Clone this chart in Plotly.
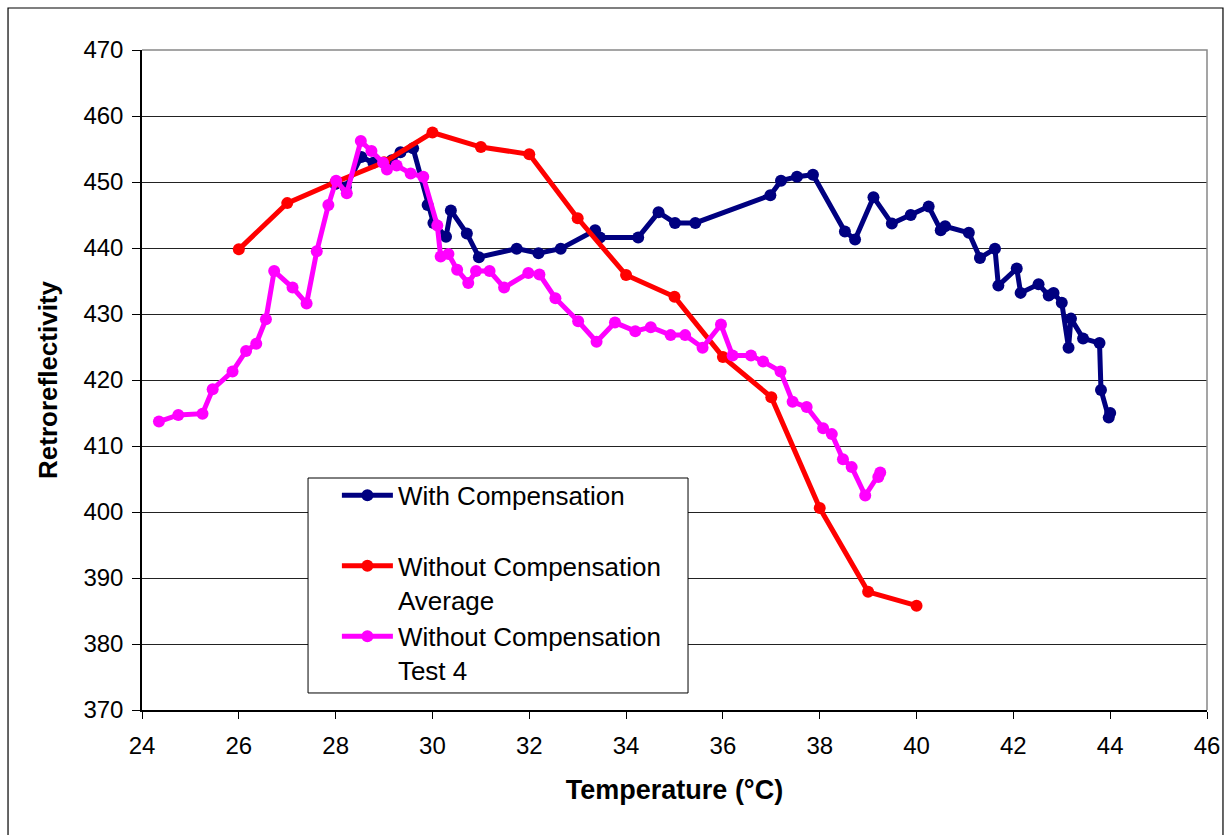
import plotly.graph_objects as go

# --- data ---
with_comp_x = [27.99, 28.21, 28.53, 28.78, 29.16, 29.34, 29.60, 29.90, 30.02, 30.28, 30.38, 30.71, 30.96,
               31.74, 32.19, 32.65, 33.36, 33.46, 34.25, 34.67, 35.01, 35.43, 36.98, 37.20, 37.53, 37.86,
               38.52, 38.73, 39.11, 39.49, 39.88, 40.25, 40.50, 40.59, 41.08, 41.31, 41.62, 41.69, 42.07,
               42.15, 42.52, 42.73, 42.83, 43.00, 43.14, 43.19, 43.44, 43.78, 43.81, 43.97, 44.00]
with_comp_y = [449.7, 449.2, 453.8, 452.9, 453.3, 454.5, 455.1, 446.5, 443.8, 441.7, 445.7, 442.2, 438.6,
               439.9, 439.2, 439.9, 442.7, 441.6, 441.6, 445.4, 443.8, 443.8, 448.0, 450.2, 450.8, 451.1,
               442.5, 441.3, 447.7, 443.7, 445.0, 446.3, 442.7, 443.3, 442.3, 438.5, 439.9, 434.3, 436.9,
               433.2, 434.5, 432.8, 433.2, 431.7, 424.9, 429.3, 426.3, 425.6, 418.5, 414.3, 415.0]

avg_x = [26, 27, 28, 29, 30, 31, 32, 33, 34, 35, 36, 37, 38, 39, 40]
avg_y = [439.8, 446.8, 450.0, 453.0, 457.5, 455.3, 454.2, 444.5, 435.9, 432.6, 423.5, 417.4, 400.6, 387.9, 385.8]

test4_x = [24.35, 24.75, 25.25, 25.46, 25.87, 26.15, 26.36, 26.56, 26.73, 27.11, 27.40, 27.61, 27.85,
           28.01, 28.23, 28.52, 28.74, 28.98, 29.06, 29.26, 29.55, 29.81, 30.10, 30.17, 30.33, 30.51,
           30.74, 30.90, 31.18, 31.48, 31.98, 32.21, 32.54, 33.01, 33.39, 33.77, 34.19, 34.51, 34.92,
           35.22, 35.58, 35.96, 36.20, 36.58, 36.83, 37.19, 37.44, 37.73, 38.07, 38.25, 38.48, 38.66,
           38.94, 39.21, 39.25]
test4_y = [413.7, 414.7, 414.9, 418.6, 421.3, 424.4, 425.5, 429.2, 436.5, 434.0, 431.6, 439.5, 446.5,
           450.2, 448.3, 456.2, 454.7, 452.9, 451.9, 452.5, 451.3, 450.8, 443.4, 438.7, 439.1, 436.7,
           434.7, 436.5, 436.5, 434.0, 436.2, 436.0, 432.4, 428.9, 425.8, 428.7, 427.4, 428.0, 426.8,
           426.8, 424.9, 428.4, 423.7, 423.7, 422.8, 421.3, 416.7, 415.9, 412.7, 411.8, 408.0, 406.8,
           402.5, 405.3, 406.0]

series_names = ["With Compensation<br>\u00a0", "Without Compensation<br>Average", "Without Compensation<br>Test 4"]
series_colors = ["#000080", "#FF0000", "#FF00FF"]

x_ticks = list(range(24, 47, 2))
y_ticks = list(range(370, 471, 10))

FONT = "Liberation Sans, Arial, sans-serif"

fig = go.Figure()
for xs, ys, name, col in zip([with_comp_x, avg_x, test4_x], [with_comp_y, avg_y, test4_y],
                             series_names, series_colors):
    fig.add_trace(go.Scatter(x=xs, y=ys, name=name, mode="lines+markers",
                             line=dict(color=col, width=5),
                             marker=dict(color=col, size=12)))

fig.update_layout(
    width=1225, height=835, autosize=False,
    paper_bgcolor="white", plot_bgcolor="white",
    margin=dict(l=142, r=18, t=50, b=125),
    font=dict(family=FONT, size=24, color="black"),
    showlegend=True,
    legend=dict(x=0.1830, y=0.361, xanchor="left", yanchor="top",
                bgcolor="rgba(0,0,0,0)", borderwidth=0, itemwidth=51,
                font=dict(family=FONT, size=26, color="black"),
                valign="top", tracegroupgap=0),
    xaxis=dict(range=[24, 46], tickvals=x_ticks, showgrid=False, zeroline=False,
               showline=True, linecolor="black", linewidth=1.5,
               ticks="outside", ticklen=7, tickcolor="black", ticklabelstandoff=6,
               ticklabeloverflow="allow", automargin=False,
               tickfont=dict(size=24),
               title=dict(text="<b>Temperature (°C)</b>", font=dict(size=27), standoff=23)),
    yaxis=dict(range=[370, 470], tickvals=y_ticks, showgrid=True, gridcolor="#222222", gridwidth=1.3,
               zeroline=False, showline=True, linecolor="black", linewidth=1.5,
               ticks="outside", ticklen=8, tickcolor="black", ticklabelstandoff=4,
               automargin=False,
               tickfont=dict(size=24),
               title=dict(text="<b>Retroreflectivity</b>", font=dict(size=26), standoff=18)),
    shapes=[
        # plot-area border (top and right, gray)
        dict(type="path", xref="paper", yref="paper", path="M 0,1 L 1,1 L 1,0",
             line=dict(color="#888888", width=1.5), layer="above"),
        # legend box
        dict(type="rect", xref="paper", yref="paper", x0=0.1559, x1=0.5127, y0=0.0258, y1=0.3515,
             line=dict(color="black", width=1), fillcolor="white", layer="above"),
        # outer chart frame
        dict(type="rect", xref="paper", yref="paper", x0=-0.1258, x1=1.0150, y0=-0.195, y1=1.0636,
             line=dict(color="black", width=1.2), layer="above"),
    ],
)

fig.write_html("out.html",
               config={"responsive": False, "displayModeBar": False},
               post_script="document.body.style.margin='0';document.body.style.overflow='hidden';")
